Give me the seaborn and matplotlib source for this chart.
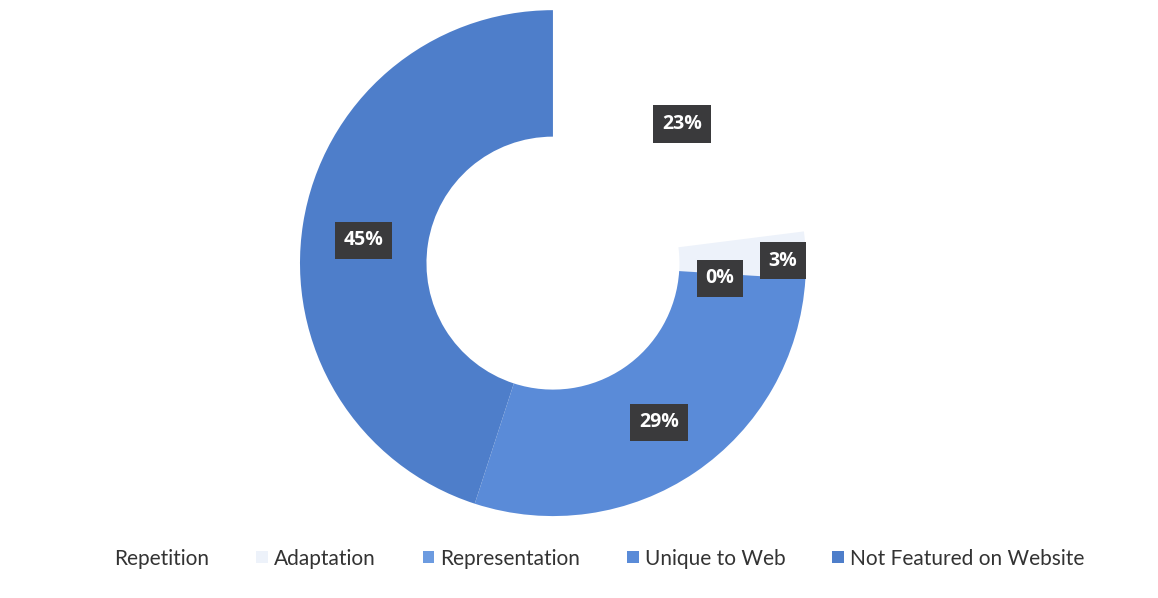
import seaborn as sns
import matplotlib.pyplot as plt
from matplotlib.patches import Patch

# slice data, clockwise from 12 o'clock
categories = ["Repetition", "Adaptation", "Representation", "Unique to Web", "Not Featured on Website"]
shares = [23, 3, 0, 29, 45]
labels = ["23%", "3%", "0%", "29%", "45%"]
colors = ["#FFFFFF", "#EDF2FA", "#6C9BE0", "#5A8BD8", "#4E7ECA"]
# where the label boxes sit (axes data units, radius = 1)
label_xy = [(0.51, 0.55), (0.91, 0.01), (0.66, -0.06), (0.42, -0.63), (-0.75, 0.09)]

sns.set_theme(style="white")
plt.rcParams["font.family"] = ["Lato", "DejaVu Sans"]

fig = plt.figure(figsize=(11.58, 5.98), dpi=100)
ax = fig.add_axes([0.259, 0.137, 0.437, 0.846])

wedges, _ = ax.pie(shares, colors=colors, startangle=90, counterclock=False,
                   radius=1.0, wedgeprops=dict(width=0.5, linewidth=0))
ax.set_xlim(-1, 1)
ax.set_ylim(-1, 1)
ax.set_aspect("equal")
ax.axis("off")

for (x, y), txt in zip(label_xy, labels):
    ax.text(x, y, txt, ha="center", va="center", color="white", fontsize=14,
            fontweight="bold", family=["Open Sans", "DejaVu Sans"],
            bbox=dict(boxstyle="square,pad=0.45", facecolor="#3A3A3C", edgecolor="none"))

handles = [Patch(facecolor=c, edgecolor="none") for c in colors]
leg = fig.legend(handles, categories, loc="center", bbox_to_anchor=(0.51, 0.066),
                 ncol=5, frameon=False, fontsize=15, handlelength=0.55,
                 handleheight=0.55, handletextpad=0.3, columnspacing=2.25)
for t in leg.get_texts():
    t.set_color("#333333")

fig.savefig("out.png", dpi=100)
